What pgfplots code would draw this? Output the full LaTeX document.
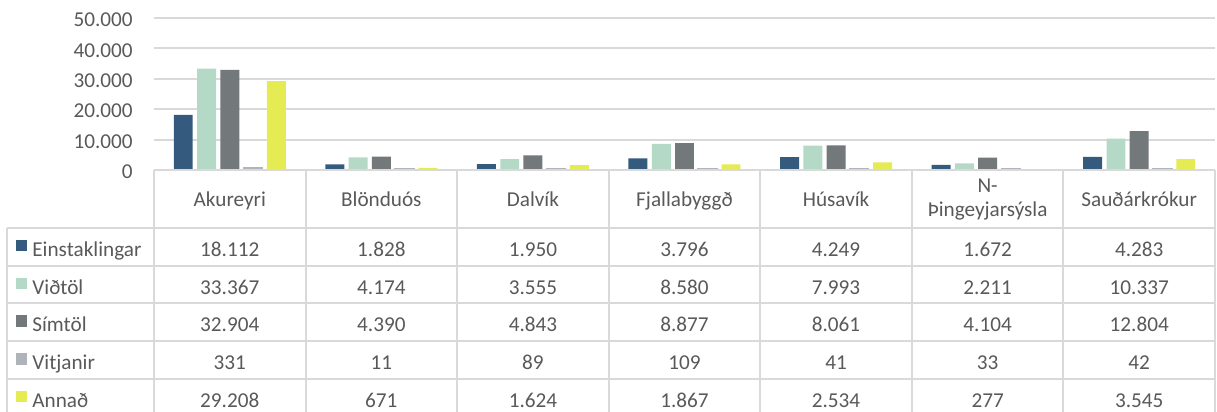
\documentclass[border=0pt]{standalone}
\usepackage{pgfplots}
\pgfplotsset{compat=1.18}
\usepackage{fontspec}
\setmainfont{Carlito}

\definecolor{cA}{HTML}{345A7E}
\definecolor{cB}{HTML}{B4DAC7}
\definecolor{cC}{HTML}{73787B}
\definecolor{cD}{HTML}{AEB4B9}
\definecolor{cE}{HTML}{E5EB52}
\definecolor{gridc}{HTML}{D9D9D9}
\definecolor{txt}{HTML}{595959}

\begin{document}
\begin{tikzpicture}[font=\fontsize{10.6}{12.7}\selectfont, text=txt]
\begin{axis}[
    name=ax,
    ybar, scale only axis,
    width=530.5pt, height=76pt,
    xmin=-0.5, xmax=6.5, ymin=0, ymax=50000,
    ytick={0,10000,20000,30000,40000,50000},
    xtick=\empty,
    scaled y ticks=false,
    ymajorgrids, grid style={color=gridc, line width=1pt},
    axis line style={draw=none},
    major tick length=0pt,
    bar width=0.125,
    yticklabel style={anchor=east, inner sep=0pt, xshift=-10.5pt, yshift=-1pt, text=txt},
    /pgf/number format/.cd, 1000 sep={.}, assume math mode=true
]
\addplot[fill=cA, draw=none, bar shift=-0.307] coordinates {(0,18112) (1,1828) (2,1950) (3,3796) (4,4249) (5,1672) (6,4283)};
\addplot[fill=cB, draw=none, bar shift=-0.153] coordinates {(0,33367) (1,4174) (2,3555) (3,8580) (4,7993) (5,2211) (6,10337)};
\addplot[fill=cC, draw=none, bar shift=0] coordinates {(0,32904) (1,4390) (2,4843) (3,8877) (4,8061) (5,4104) (6,12804)};
\addplot[fill=cD, draw=cD, line width=1.5pt, bar shift=0.153, bar width=0.115] coordinates {(0,331) (1,11) (2,89) (3,109) (4,41) (5,33) (6,42)};
\addplot[fill=cE, draw=none, bar shift=0.307] coordinates {(0,29208) (1,671) (2,1624) (3,1867) (4,2534) (5,277) (6,3545)};
\end{axis}

% data table below the plot, in pixel coordinates of the reference
\begin{scope}[shift={(ax.south west)}, x=0.5pt, y=-0.5pt, shift={(-154,-170)}]
  \draw[gridc, line width=1pt] (154,170) -- (1215,170);
  \foreach \k in {0,...,4}
    \draw[gridc, line width=1pt] (7,{228+\k*37.75}) -- (1215,{228+\k*37.75});
  \draw[gridc, line width=1pt] (7,228) -- (7,420);
  \foreach \k in {0,...,7}
    \draw[gridc, line width=1pt] ({154+\k*151.57},170) -- ({154+\k*151.57},420);

  \foreach \name [count=\i from 0] in {Akureyri,Blönduós,Dalvík,Fjallabyggð,Húsavík,,Sauðárkrókur}
    \node[anchor=base, inner sep=0pt] at ({154+(\i+0.5)*151.57},207) {\name};
  \node[anchor=base, inner sep=0pt] at ({154+5.5*151.57},193) {N-};
  \node[anchor=base, inner sep=0pt] at ({154+5.5*151.57},217) {Þingeyjarsýsla};

  \foreach \lab/\col/\vals [count=\r from 0] in {
      Einstaklingar/cA/{18.112,1.828,1.950,3.796,4.249,1.672,4.283},
      Viðtöl/cB/{33.367,4.174,3.555,8.580,7.993,2.211,10.337},
      Símtöl/cC/{32.904,4.390,4.843,8.877,8.061,4.104,12.804},
      Vitjanir/cD/{331,11,89,109,41,33,42},
      Annað/cE/{29.208,671,1.624,1.867,2.534,277,3.545}} {
    \fill[\col] (16,{228+\r*37.75+12}) rectangle (27,{228+\r*37.75+23.5});
    \node[anchor=base west, inner sep=0pt] at (32,{228+\r*37.75+28.5}) {\lab};
    \foreach \v [count=\c from 0] in \vals
      \node[anchor=base, inner sep=0pt] at ({154+(\c+0.5)*151.57},{228+\r*37.75+28.5}) {\v};
  }
  \pgfresetboundingbox
  \useasboundingbox (0,0) rectangle (1217,412);
\end{scope}
\end{tikzpicture}
\end{document}
